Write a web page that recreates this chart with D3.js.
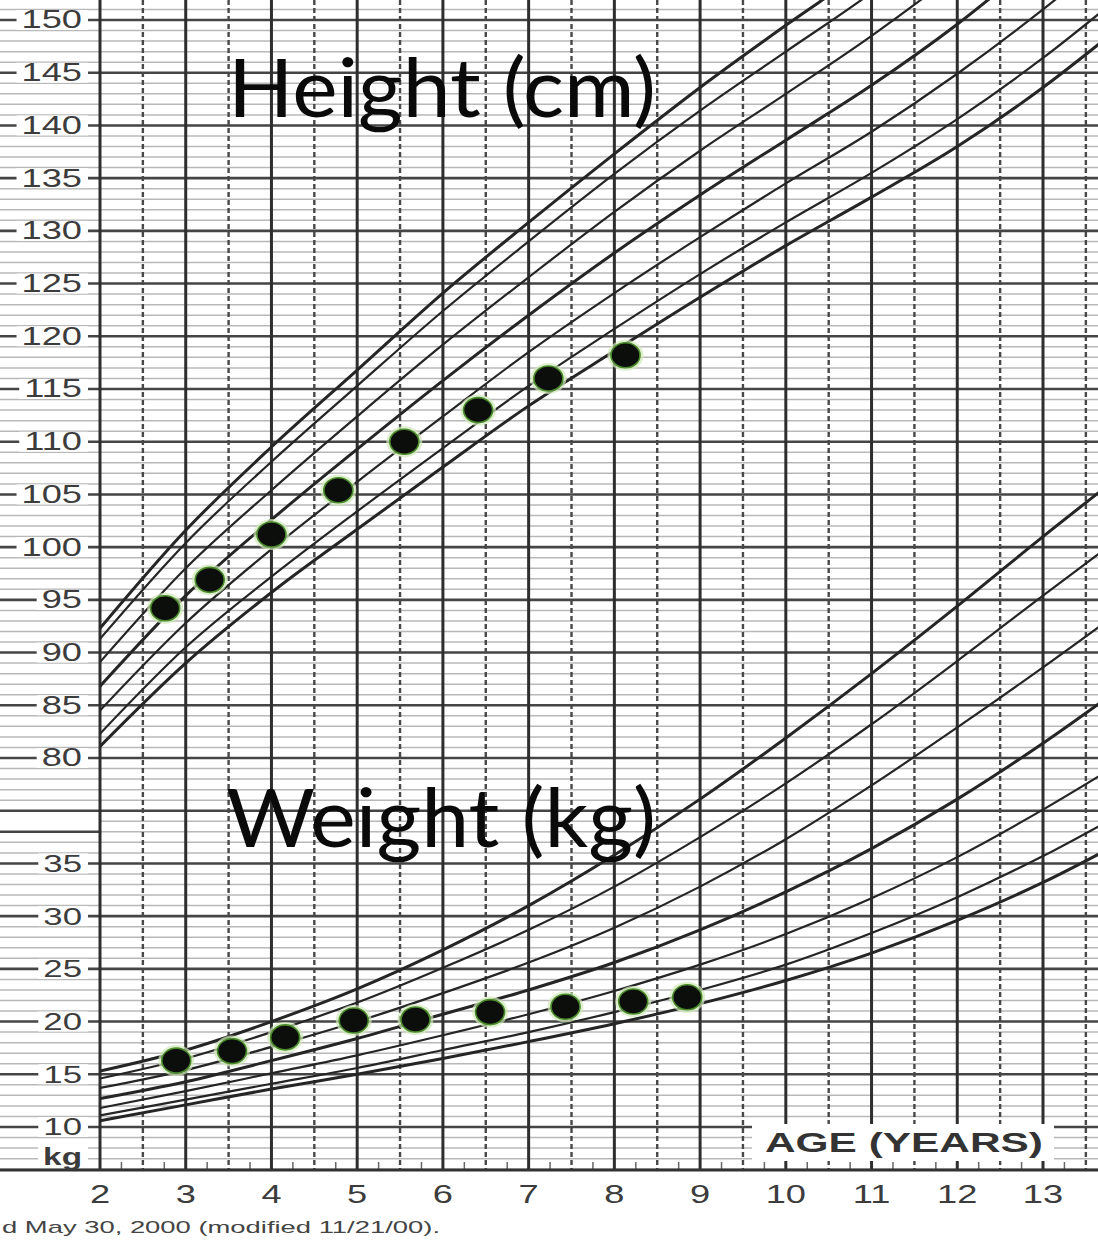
<!DOCTYPE html>
<html>
<head>
<meta charset="utf-8">
<script src="https://cdn.jsdelivr.net/npm/d3@7"></script>
<style>
  body { margin: 0; background: #fff; }
  svg { display: block; }
</style>
</head>
<body>
<div id="chart"></div>
<script>
// percentile curves, read at whole years
const ages = [2, 3, 4, 5, 6, 7, 8, 9, 10, 11, 12, 13, 14];
const pctNames = ["5", "10", "25", "50", "75", "90", "95"];

const heightP5  = [81.1, 89.0, 95.7, 101.7, 107.6, 113.4, 118.6, 123.7, 128.6, 133.2, 138.0, 143.6, 150.0];
const heightP10 = [82.3, 90.5, 97.2, 103.4, 109.4, 115.3, 120.7, 125.9, 130.8, 135.5, 140.6, 146.4, 152.9];
const heightP25 = [84.5, 92.8, 99.8, 106.2, 112.4, 118.5, 124.1, 129.4, 134.5, 139.4, 144.9, 151.0, 157.7];
const heightP50 = [86.8, 95.4, 102.6, 109.3, 115.8, 122.0, 127.9, 133.4, 138.6, 143.8, 149.6, 156.2, 163.1];
const heightP75 = [89.1, 98.0, 105.4, 112.4, 119.2, 125.6, 131.8, 137.6, 143.0, 148.5, 154.6, 161.7, 168.8];
const heightP90 = [91.3, 100.4, 108.1, 115.3, 122.4, 129.0, 135.4, 141.4, 147.0, 152.6, 159.0, 166.4, 173.6];
const heightP95 = [92.3, 101.6, 109.5, 116.8, 124.1, 130.8, 137.3, 143.6, 149.5, 155.2, 161.8, 169.2, 176.5];

const weightP5  = [10.6, 12.1, 13.6, 15.0, 16.5, 18.1, 19.8, 21.7, 23.9, 26.5, 29.6, 33.2, 37.4];
const weightP10 = [11.1, 12.6, 14.1, 15.6, 17.3, 19.0, 20.9, 23.0, 25.4, 28.4, 31.8, 35.7, 40.1];
const weightP25 = [11.8, 13.4, 15.1, 16.8, 18.7, 20.7, 22.9, 25.4, 28.3, 31.7, 35.6, 40.1, 45.0];
const weightP50 = [12.7, 14.3, 16.3, 18.4, 20.7, 23.0, 25.6, 28.7, 32.3, 36.4, 41.1, 46.4, 52.2];
const weightP75 = [13.7, 15.4, 17.6, 20.0, 22.7, 25.6, 28.9, 32.8, 37.3, 42.4, 47.9, 53.6, 59.5];
const weightP90 = [14.6, 16.5, 19.0, 21.8, 25.1, 28.7, 32.8, 37.5, 42.6, 48.2, 54.2, 60.4, 66.5];
const weightP95 = [15.3, 17.3, 20.0, 23.1, 26.8, 31.0, 35.8, 41.1, 46.9, 53.0, 59.4, 66.0, 72.4];

// the child's measurements
const heightAges = [2.76, 3.28, 4.0, 4.78, 5.55, 6.41, 7.23, 8.13];
const heightValues = [94.2, 96.9, 101.2, 105.4, 110.0, 113.0, 116.0, 118.2];
const weightAges = [2.89, 3.54, 4.16, 4.96, 5.68, 6.55, 7.43, 8.22, 8.85];
const weightValues = [16.3, 17.2, 18.5, 20.1, 20.2, 20.9, 21.4, 21.9, 22.3];

// tick labels
const yearTicks = [2, 3, 4, 5, 6, 7, 8, 9, 10, 11, 12, 13];
const heightTicks = [80, 85, 90, 95, 100, 105, 110, 115, 120, 125, 130, 135, 140, 145, 150];
const weightTicks = [10, 15, 20, 25, 30, 35];

const width = 1098, height = 1240;
const plotLeft = 100, bottom = 1170;
const stretch = 1.45; // the old chart scan is stretched sideways

const svg = d3.select("#chart")
  .append("svg")
  .attr("width", width)
  .attr("height", height)
  .attr("viewBox", [0, 0, width, height]);

svg.append("rect").attr("width", width).attr("height", height).attr("fill", "#fff");

const x = d3.scaleLinear().domain([2, 13]).range([plotLeft, 1043]);
const yH = d3.scaleLinear().domain([80, 150]).range([758, 20]);
// kg grid shares the cm grid, 10 kg sits where 45 cm would be
const yW = d3.scaleLinear().domain([10, 35]).range([yH(45), yH(70)]);

svg.append("clipPath").attr("id", "plot")
  .append("rect")
  .attr("x", plotLeft).attr("y", 0)
  .attr("width", width - plotLeft).attr("height", bottom);

const grid = svg.append("g");

// horizontal rules, one per unit
const units = d3.range(41, 153);
grid.selectAll("line.minor")
  .data(units.filter(v => v % 5 !== 0))
  .join("line")
  .attr("x1", 0).attr("x2", width)
  .attr("y1", d => yH(d)).attr("y2", d => yH(d))
  .attr("stroke", "#b8b8b8")
  .attr("stroke-width", 1.5);

// blank strip in the margin between the two scales
grid.append("rect")
  .attr("x", 0).attr("y", yH(75)).attr("width", plotLeft).attr("height", yH(73) - yH(75))
  .attr("fill", "#fff");

grid.selectAll("line.major")
  .data(units.filter(v => v % 5 === 0))
  .join("line")
  .attr("x1", 0).attr("x2", width)
  .attr("y1", d => yH(d)).attr("y2", d => yH(d))
  .attr("stroke", "#454545")
  .attr("stroke-width", 2.6);

// short rule in the margin only
grid.append("line")
  .attr("x1", 0).attr("x2", plotLeft)
  .attr("y1", yH(73)).attr("y2", yH(73))
  .attr("stroke", "#454545")
  .attr("stroke-width", 2.6);

// half year lines, dashed
grid.selectAll("line.half")
  .data(d3.range(2.5, 14, 1))
  .join("line")
  .attr("x1", d => x(d)).attr("x2", d => x(d))
  .attr("y1", 0).attr("y2", bottom)
  .attr("stroke", "#484848")
  .attr("stroke-width", 2.4)
  .attr("stroke-dasharray", "5,3");

// quarter-year ticks on the bottom edge
grid.selectAll("line.qtick")
  .data(d3.range(2, 13.9, 0.25).filter(d => d % 0.5 !== 0))
  .join("line")
  .attr("x1", d => x(d)).attr("x2", d => x(d))
  .attr("y1", bottom - 8).attr("y2", bottom)
  .attr("stroke", "#666")
  .attr("stroke-width", 1.5);

// whole years
grid.selectAll("line.year")
  .data(d3.range(2, 14, 1))
  .join("line")
  .attr("x1", d => x(d)).attr("x2", d => x(d))
  .attr("y1", 0).attr("y2", bottom)
  .attr("stroke", "#2e2e2e")
  .attr("stroke-width", 3);

grid.append("line")
  .attr("x1", 0).attr("x2", width)
  .attr("y1", bottom).attr("y2", bottom)
  .attr("stroke", "#333")
  .attr("stroke-width", 3);

// percentile curves
const heightSeries = [heightP5, heightP10, heightP25, heightP50, heightP75, heightP90, heightP95];
const weightSeries = [weightP5, weightP10, weightP25, weightP50, weightP75, weightP90, weightP95];
const thick = d => d === "5" || d === "50" || d === "95";

const lineH = d3.line().x((d, i) => x(ages[i])).y(d => yH(d)).curve(d3.curveMonotoneX);
const lineW = d3.line().x((d, i) => x(ages[i])).y(d => yW(d)).curve(d3.curveMonotoneX);

const curves = svg.append("g").attr("clip-path", "url(#plot)").attr("fill", "none");

curves.selectAll("path.h")
  .data(heightSeries)
  .join("path")
  .attr("d", lineH)
  .attr("stroke", "#252525")
  .attr("stroke-width", (d, i) => thick(pctNames[i]) ? 3 : 2.2);

curves.selectAll("path.w")
  .data(weightSeries)
  .join("path")
  .attr("d", lineW)
  .attr("stroke", "#252525")
  .attr("stroke-width", (d, i) => thick(pctNames[i]) ? 3 : 2.2);

// left axis labels, white behind them so the rule shows as dashes
const labels = svg.append("g")
  .attr("font-family", "'Liberation Sans', Arial, sans-serif")
  .attr("fill", "#3c3c3c");

function leftLabel(txt, y, size, weight) {
  const t = labels.append("text")
    .attr("transform", `translate(82,${y}) scale(${stretch},1)`)
    .attr("text-anchor", "end")
    .attr("dominant-baseline", "central")
    .attr("font-size", size)
    .attr("font-weight", weight)
    .text(txt);
  const w = t.node().getComputedTextLength() * stretch;
  labels.insert("rect", "text")
    .attr("x", 82 - w - 5).attr("y", y - 10)
    .attr("width", w + 11).attr("height", 20)
    .attr("fill", "#fff");
}

heightTicks.forEach(d => leftLabel(d, yH(d), 25, "normal"));
weightTicks.forEach(d => leftLabel(d, yW(d), 24, "normal"));
leftLabel("kg", 1157, 23, "bold");

// year numbers under the chart
labels.selectAll("text.year")
  .data(yearTicks)
  .join("text")
  .attr("transform", d => `translate(${x(d)},1203) scale(${stretch},1)`)
  .attr("text-anchor", "middle")
  .attr("font-size", 25)
  .text(d => d);

// age caption sits in a white box on the grid
svg.append("rect")
  .attr("x", 752).attr("y", 1124).attr("width", 302).attr("height", 37)
  .attr("fill", "#fff");
svg.append("text")
  .attr("x", 765).attr("y", 1152)
  .attr("font-family", "'Liberation Sans', Arial, sans-serif")
  .attr("font-weight", "bold")
  .attr("font-size", 27)
  .attr("fill", "#333")
  .attr("textLength", 278)
  .attr("lengthAdjust", "spacingAndGlyphs")
  .text("AGE (YEARS)");

svg.append("text")
  .attr("x", 2).attr("y", 1233)
  .attr("font-family", "'Liberation Sans', Arial, sans-serif")
  .attr("font-size", 17)
  .attr("fill", "#444")
  .attr("textLength", 438)
  .attr("lengthAdjust", "spacingAndGlyphs")
  .text("d May 30, 2000 (modified 11/21/00).");

// titles
svg.append("text")
  .attr("x", 228).attr("y", 117)
  .attr("font-family", "Lato, 'Open Sans', sans-serif")
  .attr("font-size", 82)
  .attr("fill", "#0a0a0a")
  .attr("textLength", 428)
  .attr("lengthAdjust", "spacingAndGlyphs")
  .text("Height (cm)");

svg.append("text")
  .attr("x", 226).attr("y", 847)
  .attr("font-family", "Lato, 'Open Sans', sans-serif")
  .attr("font-size", 82)
  .attr("fill", "#0a0a0a")
  .attr("textLength", 430)
  .attr("lengthAdjust", "spacingAndGlyphs")
  .text("Weight (kg)");

// measured points: black dots with a green glow
const dots = svg.append("g");
const heightPts = heightAges.map((a, i) => [x(a), yH(heightValues[i])]);
const weightPts = weightAges.map((a, i) => [x(a), yW(weightValues[i])]);
const allPts = heightPts.concat(weightPts);

dots.selectAll("ellipse.glow")
  .data(allPts)
  .join("ellipse")
  .attr("cx", d => d[0]).attr("cy", d => d[1])
  .attr("rx", 18).attr("ry", 15.5)
  .attr("fill", "#cfe8b8")
  .attr("opacity", 0.7);

dots.selectAll("ellipse.dot")
  .data(allPts)
  .join("ellipse")
  .attr("cx", d => d[0]).attr("cy", d => d[1])
  .attr("rx", 14.5).attr("ry", 12.5)
  .attr("fill", "#0b0e0a")
  .attr("stroke", "#4b8a2c")
  .attr("stroke-width", 1.6);
</script>
</body>
</html>
